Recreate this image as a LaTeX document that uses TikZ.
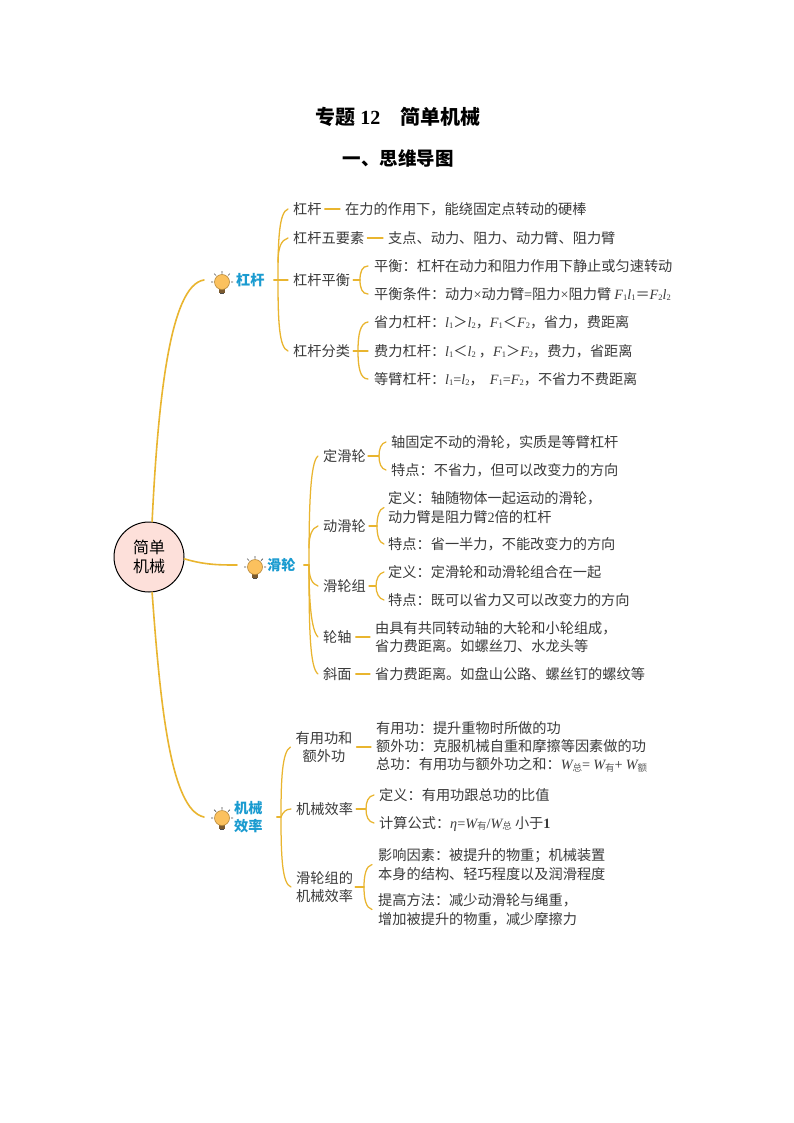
\documentclass[tikz,border=0pt]{standalone}
\usepackage{fontspec}
\setmainfont{Noto Sans CJK SC}
\newfontfamily\latf{Liberation Serif}
\newcommand\vi[1]{{\latf\itshape #1}}
\newcommand\vs[1]{\raisebox{-1.5pt}{\fontsize{8.5}{9}\selectfont\latf #1}}
\newcommand\cs[1]{\raisebox{-1.5pt}{\fontsize{9.5}{10}\selectfont\color{black!65}#1}}
\definecolor{ink}{HTML}{3A3A3A}
\definecolor{branch}{HTML}{E9B52F}
\definecolor{topic}{HTML}{1A9BD0}
\definecolor{rootfill}{HTML}{FDE0DA}
\definecolor{bulbfill}{HTML}{FBC15E}
\definecolor{bulbedge}{HTML}{B98A3A}
\definecolor{bulbbase}{HTML}{7A5A30}
\tikzset{
  main/.style={draw=branch,line width=1.6pt,line cap=round},
  sub/.style={draw=branch,line width=1.3pt,line cap=round},
  tw/.style={draw=branch,line width=1.25pt,line cap=round},
  txt/.style={anchor=west,inner sep=0pt,text=ink,font=\fontsize{14.2}{18.6}\selectfont,text height=12.4pt,text depth=1.6pt},
  mtxt/.style={anchor=west,inner sep=0pt,text=ink,font=\fontsize{14.2}{18.6}\selectfont,align=left},
  ctxt/.style={anchor=center,inner sep=0pt,text=ink,font=\fontsize{14.2}{18.6}\selectfont,align=center},
  topiclab/.style={anchor=west,inner sep=0pt,text=topic,align=left,font=\fontsize{14.2}{18}\selectfont\bfseries},
  bulb/.pic={
    \draw[line width=.7pt,draw=black!70] (-6,-6.5)--(-7.8,-8.3) (6,-6.5)--(7.8,-8.3) (0,-8.5)--(0,-11) (-9,0)--(-11,0) (9,0)--(11,0);
    \fill[fill=bulbbase] (-3,6.5) rectangle (3,10.5);
    \fill[fill=black!70] (-2,10.5) rectangle (2,11.5);
    \draw[fill=bulbfill,draw=bulbedge,line width=.6pt] (0,0) circle (7.5);
  }
}
\begin{document}
\begin{tikzpicture}[x=1pt,y=-1pt]
\useasboundingbox (0,0) rectangle (794,1123);
\fill[white] (0,0) rectangle (794,1123);
% titles
\node[inner sep=0pt,text=black,font=\fontsize{20}{24}\selectfont\bfseries] (title) at (398,117) {专题 {\latf 12}　简单机械};
\node[inner sep=0pt,text=black,font=\fontsize{18.5}{22}\selectfont\bfseries] (subtitle) at (398,158) {一、思维导图};
% root
\node[circle,draw=black,line width=1pt,fill=rootfill,minimum size=70pt,inner sep=0pt,align=center,text=black,font=\fontsize{16}{19.5}\selectfont] (root) at (149,557) {简单\\机械};
% topics
\pic at (222,282) {bulb};
\pic at (255,567) {bulb};
\pic at (222,818) {bulb};
\node[topiclab] (t1) at (236,280) {杠杆};
\node[topiclab] (t2) at (267,565) {滑轮};
\node[topiclab] (t3) at (234,817) {机械\\效率};
\coordinate (t1in) at (204,280);
\coordinate (t2in) at (237,565);
\coordinate (t3in) at (204,817);
\draw[main] (root.85) .. controls (158,400) and (170,285) .. (t1in);
\draw[main] (root.-3) .. controls (205,565) and (220,565) .. (t2in);
\draw[main] (root.-85) .. controls (160,700) and (170,810) .. (t3in);
% ---------- lever
\node[txt] (a1) at (293,209) {杠杆};
\node[txt] (a2) at (293,238) {杠杆五要素};
\node[txt] (a3) at (293,280) {杠杆平衡};
\node[txt] (a4) at (293,351) {杠杆分类};
\coordinate (as) at (278,280);
\draw[sub] (t1.east) ++(9,0) -- ([xshift=-5pt]a3.west);
\draw[sub] (as) .. controls (278,240) and (279,212) .. ([xshift=-5pt]a1.west);
\draw[sub] (278,262) .. controls (278,248) and (281,240) .. ([xshift=-5pt]a2.west);
\draw[sub] (as) .. controls (278,320) and (279,348) .. ([xshift=-5pt]a4.west);
\node[txt] (a11) at (345,209) {在力的作用下，能绕固定点转动的硬棒};
\draw[sub] ([xshift=3pt]a1.east) -- ([xshift=-5pt]a11.west);
\node[txt] (a21) at (388,238) {支点、动力、阻力、动力臂、阻力臂};
\draw[sub] ([xshift=3pt]a2.east) -- ([xshift=-5pt]a21.west);
\node[txt] (a31) at (374,266) {平衡：杠杆在动力和阻力作用下静止或匀速转动};
\node[txt] (a32) at (374,294) {平衡条件：动力{\latf ×}动力臂{\latf =}阻力{\latf ×}阻力臂 \vi{F}\vs{1}\vi{l}\vs{1}＝\vi{F}\vs{2}\vi{l}\vs{2}};
\coordinate (a3j) at (360,280);
\draw[sub] ([xshift=3pt]a3.east) -- (a3j);
\draw[sub] (a3j) .. controls (360,272) and (362,266) .. ([xshift=-6pt]a31.west);
\draw[sub] (a3j) .. controls (360,288) and (362,294) .. ([xshift=-6pt]a32.west);
\node[txt] (a41) at (374,322) {省力杠杆：\vi{l}\vs{1}＞\vi{l}\vs{2}，\vi{F}\vs{1}＜\vi{F}\vs{2}，省力，费距离};
\node[txt] (a42) at (374,351) {费力杠杆：\vi{l}\vs{1}＜\vi{l}\vs{2} ，\vi{F}\vs{1}＞\vi{F}\vs{2}，费力，省距离};
\node[txt] (a43) at (374,379) {等臂杠杆：\vi{l}\vs{1}{\latf =}\vi{l}\vs{2}，\hspace{3pt} \vi{F}\vs{1}{\latf =}\vi{F}\vs{2}，不省力不费距离};
\coordinate (a4j) at (358,351);
\draw[sub] ([xshift=3pt]a4.east) -- ([xshift=-6pt]a42.west);
\draw[sub] (a4j) .. controls (358,335) and (360,323) .. ([xshift=-6pt]a41.west);
\draw[sub] (a4j) .. controls (358,367) and (360,379) .. ([xshift=-6pt]a43.west);
% ---------- pulley
\node[txt] (b1) at (323,456) {定滑轮};
\node[txt] (b2) at (323,526) {动滑轮};
\node[txt] (b3) at (323,586) {滑轮组};
\node[txt] (b4) at (323,637) {轮轴};
\node[txt] (b5) at (323,674) {斜面};
\coordinate (bs) at (309,565);
\draw[tw] (t2.east) ++(8,0) -- (bs);
\draw[tw] (bs) .. controls (309,510) and (310,462) .. ([xshift=-5pt]b1.west);
\draw[tw] (309,548) .. controls (309,535) and (312,528) .. ([xshift=-5pt]b2.west);
\draw[tw] (309,565) .. controls (309,578) and (312,584) .. ([xshift=-5pt]b3.west);
\draw[tw] (bs) .. controls (309,600) and (311,630) .. ([xshift=-5pt]b4.west);
\draw[tw] (bs) .. controls (309,630) and (310,668) .. ([xshift=-5pt]b5.west);
\node[txt] (b11) at (391,442) {轴固定不动的滑轮，实质是等臂杠杆};
\node[txt] (b12) at (391,470) {特点：不省力，但可以改变力的方向};
\coordinate (b1j) at (379,456);
\draw[tw] ([xshift=2pt]b1.east) -- (b1j);
\draw[tw] (b1j) .. controls (379,449) and (381,443) .. ([xshift=-5pt]b11.west);
\draw[tw] (b1j) .. controls (379,463) and (381,469) .. ([xshift=-5pt]b12.west);
\node[mtxt] (b21) at (388,507.5) {定义：轴随物体一起运动的滑轮，\\动力臂是阻力臂{\latf 2}倍的杠杆};
\node[txt] (b22) at (388,544) {特点：省一半力，不能改变力的方向};
\coordinate (b2j) at (377,526);
\draw[tw] ([xshift=3pt]b2.east) -- (b2j);
\draw[tw] (b2j) .. controls (377,517) and (379,509) .. ([xshift=-4pt]b21.west);
\draw[tw] (b2j) .. controls (377,535) and (379,543) .. ([xshift=-4pt]b22.west);
\node[txt] (b31) at (388,572) {定义：定滑轮和动滑轮组合在一起};
\node[txt] (b32) at (388,600) {特点：既可以省力又可以改变力的方向};
\coordinate (b3j) at (376,586);
\draw[tw] ([xshift=3pt]b3.east) -- (b3j);
\draw[tw] (b3j) .. controls (376,579) and (379,573) .. ([xshift=-4pt]b31.west);
\draw[tw] (b3j) .. controls (376,593) and (379,599) .. ([xshift=-4pt]b32.west);
\node[mtxt] (b41) at (375,637) {由具有共同转动轴的大轮和小轮组成，\\省力费距离。如螺丝刀、水龙头等};
\draw[tw] ([xshift=4pt]b4.east) -- ([xshift=-5pt]b41.west);
\node[txt] (b51) at (375,674) {省力费距离。如盘山公路、螺丝钉的螺纹等};
\draw[tw] ([xshift=4pt]b5.east) -- ([xshift=-5pt]b51.west);
% ---------- efficiency
\node[ctxt] (c1) at (324,747) {有用功和\\额外功};
\node[txt] (c2) at (296,809) {机械效率};
\node[mtxt] (c3) at (296,887) {滑轮组的\\机械效率};
\coordinate (cs) at (281,817);
\draw[tw] (t3.east) ++(14,0) -- (cs);
\draw[tw] (cs) .. controls (281,780) and (282,752) .. ([xshift=-5pt]c1.west);
\draw[tw] (cs) .. controls (283,812) and (286,809) .. ([xshift=-5pt]c2.west);
\draw[tw] (cs) .. controls (281,855) and (282,884) .. ([xshift=-5pt]c3.west);
\node[mtxt,font=\fontsize{14.2}{18}\selectfont] (c11) at (376,747) {有用功：提升重物时所做的功\\额外功：克服机械自重和摩擦等因素做的功\\总功：有用功与额外功之和：\vi{W}\cs{总}{\latf =} \vi{W}\cs{有}{\latf +} \vi{W}\cs{额}};
\draw[tw] ([xshift=4pt]c1.east) -- ([xshift=-5pt]c11.west);
\node[txt] (c21) at (379,795) {定义：有用功跟总功的比值};
\node[txt] (c22) at (379,823) {计算公式：\vi{η}{\latf =}\vi{W}\cs{有}{\latf /}\vi{W}\cs{总} 小于{\latf\bfseries 1}};
\coordinate (c2j) at (366,809);
\draw[tw] ([xshift=3pt]c2.east) -- (c2j);
\draw[tw] (c2j) .. controls (366,802) and (368,796) .. ([xshift=-5pt]c21.west);
\draw[tw] (c2j) .. controls (366,816) and (368,822) .. ([xshift=-5pt]c22.west);
\node[mtxt] (c31) at (378,864.5) {影响因素：被提升的物重；机械装置\\本身的结构、轻巧程度以及润滑程度};
\node[mtxt] (c32) at (378,909.5) {提高方法：减少动滑轮与绳重，\\增加被提升的物重，减少摩擦力};
\coordinate (c3j) at (364,887);
\draw[tw] ([xshift=2pt]c3.east) -- (c3j);
\draw[tw] (c3j) .. controls (364,875) and (366,866) .. ([xshift=-6pt]c31.west);
\draw[tw] (c3j) .. controls (364,899) and (366,908) .. ([xshift=-6pt]c32.west);
\end{tikzpicture}
\end{document}
